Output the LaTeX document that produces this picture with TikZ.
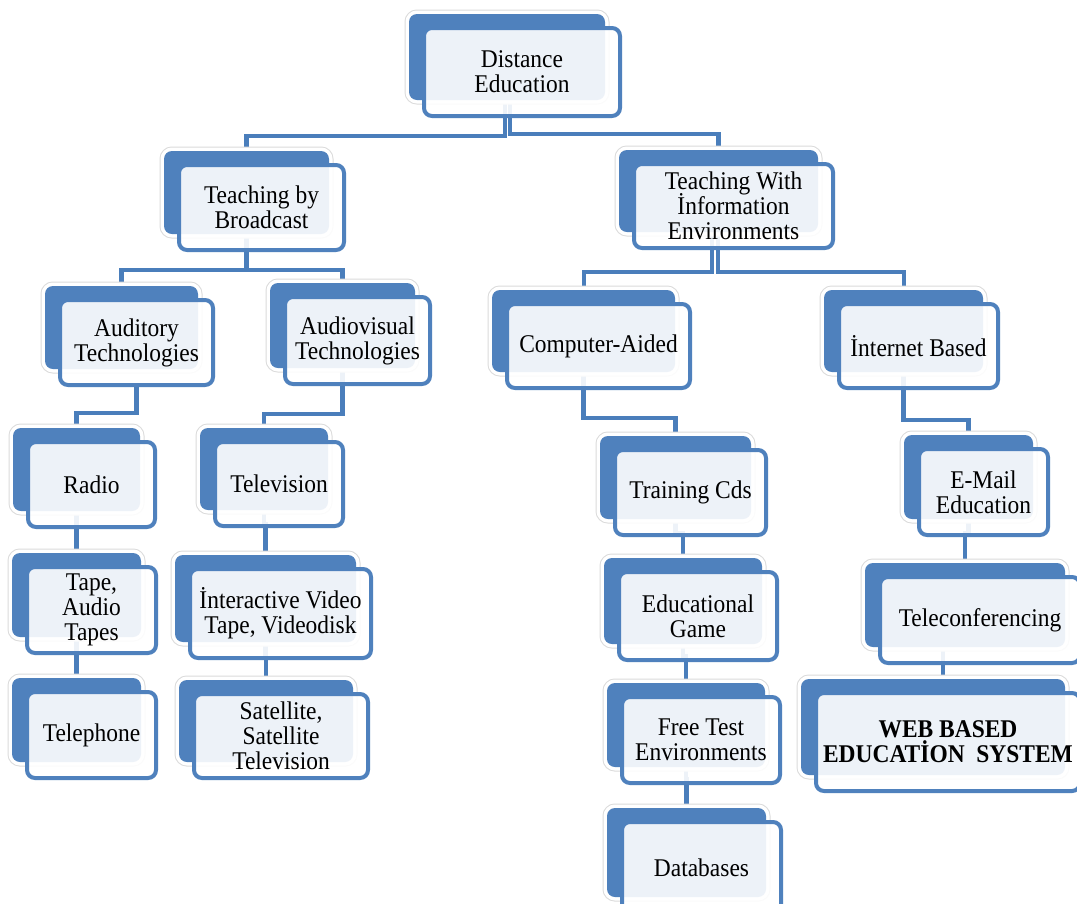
\documentclass[tikz,border=0pt]{standalone}
\usepackage{fontspec}
\setmainfont{Liberation Serif}[FakeStretch=0.92]
\usetikzlibrary{calc}
\pgfdeclarelayer{bglayer}
\pgfdeclarelayer{connlayer}
\pgfsetlayers{bglayer,connlayer,main}
\definecolor{boxblue}{HTML}{4F81BD}
\definecolor{lineblue}{HTML}{4A7EBB}
\newcommand\myboxfont{\fontsize{25.5}{25}\selectfont\lineskiplimit -20pt\relax}
\tikzset{
  backbox/.style={rectangle, rounded corners=8pt, inner sep=0pt, outer sep=0pt,
    preaction={draw=black!14, line width=9pt},
    preaction={draw=white, line width=7pt},
    fill=boxblue},
  frontbox/.style={rectangle, rounded corners=8pt, draw=boxblue, line width=4pt,
    fill=white, fill opacity=0.9, text opacity=1, inner sep=2pt, outer sep=0pt,
    align=center, font=\myboxfont, text=black},
  conn/.style={draw=lineblue, line width=4.5pt},
  thinconn/.style={draw=lineblue, line width=4pt},
}
\newcommand\ebox[6]{%
  \pgfmathsetmacro\fw{#4-#2-4}%
  \pgfmathsetmacro\fh{#5-#3-4}%
  \pgfmathsetmacro\fx{(#2+#4)/2}%
  \pgfmathsetmacro\fy{(#3+#5)/2}%
  \pgfmathsetmacro\bw{#4-#2-4}%
  \pgfmathsetmacro\bh{#5-#3-6}%
  \pgfmathsetmacro\bx{(#2+#4)/2-15}%
  \pgfmathsetmacro\by{(#3+#5)/2-15}%
  \node[backbox, minimum width=\bw pt, minimum height=\bh pt] (#1-b) at (\bx,\by) {};
  \node[frontbox, minimum width=\fw pt, minimum height=\fh pt] (#1) at (\fx,\fy) {#6};
}
\begin{document}
\begin{tikzpicture}[x=1pt,y=-1pt]
\useasboundingbox (0,0) rectangle (1077,903);
\begin{pgfonlayer}{bglayer}
  \fill[white] (0,0) rectangle (1077,903);
\end{pgfonlayer}

\ebox{de}{422}{26}{622}{118}{Distance\\Education}
\ebox{tbb}{177}{163}{346}{252}{Teaching by\\Broadcast}
\ebox{twie}{632}{162}{835}{250}{Teaching With\\İnformation\\Environments}
\ebox{aud}{58}{298}{215}{387}{Auditory\\Technologies}
\ebox{av}{283}{295}{432}{386}{Audiovisual\\Technologies}
\ebox{ca}{505}{302}{692}{390}{Computer-Aided}
\ebox{ib}{837}{302}{1000}{390}{İnternet Based}
\ebox{radio}{26}{440}{157}{529}{Radio}
\ebox{tv}{213}{440}{345}{528}{Television}
\ebox{tcd}{613}{448}{768}{537}{Training Cds}
\ebox{em}{917}{447}{1050}{537}{E-Mail\\Education}
\ebox{tape}{25}{565}{158}{655}{Tape,\\Audio\\Tapes}
\ebox{ivt}{188}{567}{373}{660}{İnteractive Video\\Tape, Videodisk}
\ebox{eg}{617}{570}{779}{662}{Educational\\Game}
\ebox{tele}{878}{575}{1082}{665}{Teleconferencing}
\ebox{phone}{25}{690}{158}{780}{Telephone}
\ebox{sat}{192}{692}{370}{780}{Satellite,\\Satellite\\Television}
\ebox{ft}{620}{695}{782}{785}{Free Test\\Environments}
\ebox{web}{814}{691}{1082}{793}{\bfseries WEB BASED\\\bfseries EDUCATİON\ \ SYSTEM}
\ebox{db}{620}{820}{783}{915}{Databases}

\begin{pgfonlayer}{connlayer}
  \draw[conn] ([xshift=-2pt]de-b.south) -- ++(0,36) -| (tbb-b.north);
  \draw[conn] ([xshift=3pt]de-b.south) -- ++(0,34) -| (twie-b.north);
  \draw[conn] (tbb-b.south) -- ++(0,36) -| (aud-b.north);
  \draw[conn] (tbb-b.south) -- ++(0,36) -| (av-b.north);
  \draw[thinconn] ([xshift=-6.5pt]twie-b.south) -- ++(0,40) -| (ca-b.north);
  \draw[thinconn] ([xshift=-0.5pt]twie-b.south) -- ++(0,40) -| (ib-b.north);
  \draw[conn] (aud.south) -- ++(0,28) -| (radio-b.north);
  \draw[conn] (av-b.south) -- ++(0,46) -| (tv-b.north);
  \draw[conn] (radio-b.south) -- (radio-b.south |- tape-b.north);
  \draw[conn] (tape-b.south) -- (tape-b.south |- phone-b.north);
  \draw[conn] (tv-b.south) -- ++(0,14) -| (ivt-b.north);
  \draw[conn] (ivt-b.south) -- ++(0,12) -| (sat-b.north);
  \draw[conn] (ca-b.south) -- ++(0,46) -| (tcd-b.north);
  \draw[conn] (tcd-b.south) -- ++(0,14) -| (eg-b.north);
  \draw[conn] (eg-b.south) -- ++(0,12) -| (ft-b.north);
  \draw[conn] (ft-b.south) -- ++(0,12) -| (db-b.north);
  \draw[conn] (ib-b.south) -- ++(0,48) -| (em-b.north);
  \draw[conn] (em-b.south) -- ++(0,14) -| (tele-b.north);
  \draw[conn] ([xshift=-22pt]tele-b.south) -- ([xshift=10pt]web-b.north);
\end{pgfonlayer}
\end{tikzpicture}
\end{document}
